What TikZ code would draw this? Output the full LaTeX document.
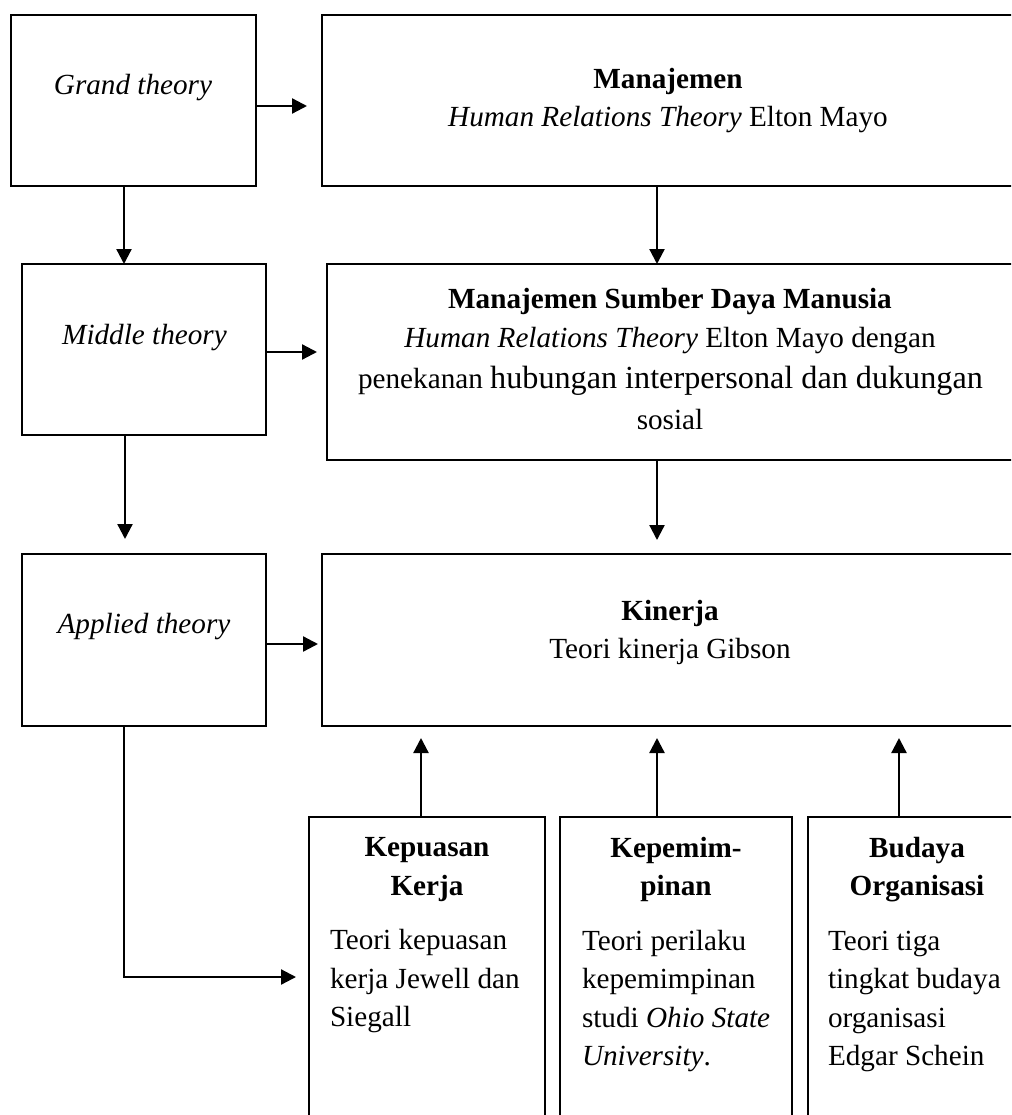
\documentclass[tikz,border=0pt]{standalone}
\usepackage{fontspec}
\setmainfont{Liberation Serif}
\usetikzlibrary{arrows.meta,calc}
\begin{document}
\begin{tikzpicture}[x=1pt,y=-1pt,
  box/.style={draw=black,line width=2.3pt,anchor=north west,inner sep=0pt,outer sep=0pt},
  arr/.style={line width=2.3pt,-{Triangle[length=15pt,width=15pt]}},
  txt/.style={inner sep=0pt,outer sep=0pt,anchor=base,font=\fontsize{29.2}{40}\selectfont},
  txl/.style={txt,anchor=base west}]
\useasboundingbox (0,0) rectangle (1011,1115);
\clip (0,0) rectangle (1011,1115);
\fill[white] (0,0) rectangle (1011,1115);
% boxes
\node[box,minimum width=245pt,minimum height=171pt] (grand) at (11,15) {};
\node[box,minimum width=696pt,minimum height=171pt] (mgmt) at (322,15) {};
\node[box,minimum width=244pt,minimum height=171pt] (middle) at (22,264) {};
\node[box,minimum width=687pt,minimum height=196pt] (msdm) at (327,264) {};
\node[box,minimum width=244pt,minimum height=172pt] (applied) at (22,554) {};
\node[box,minimum width=696pt,minimum height=172pt] (kinerja) at (322,554) {};
\node[box,minimum width=236pt,minimum height=320pt] (kepuasan) at (309,817) {};
\node[box,minimum width=232pt,minimum height=320pt] (kepem) at (560,817) {};
\node[box,minimum width=218pt,minimum height=320pt] (budaya) at (808,817) {};
% helper coordinates
\coordinate (colA) at (124,0);
\coordinate (colA2) at (125,0);
\coordinate (colB) at (657,0);
\coordinate (colC) at (421,0);
\coordinate (colD) at (899,0);
\coordinate (rowA) at (0,106);
\coordinate (rowB) at (0,352);
\coordinate (rowC) at (0,644);
\coordinate (elbY) at (0,977);
% connectors
\draw[arr,shorten >=15pt] (grand.east |- rowA) -- (mgmt.west |- rowA);
\draw[arr,shorten >=10pt] (middle.east |- rowB) -- (msdm.west |- rowB);
\draw[arr,shorten >=4pt] (applied.east |- rowC) -- (kinerja.west |- rowC);
\draw[arr] (grand.south -| colA) -- (middle.north -| colA);
\draw[arr,shorten >=15pt] (middle.south -| colA2) -- (applied.north -| colA2);
\draw[arr] (mgmt.south -| colB) -- (msdm.north -| colB);
\draw[arr,shorten >=14pt] (msdm.south -| colB) -- (kinerja.north -| colB);
\draw[arr,shorten >=12pt] (kepuasan.north -| colC) -- (kinerja.south -| colC);
\draw[arr,shorten >=12pt] (kepem.north -| colB) -- (kinerja.south -| colB);
\draw[arr,shorten >=12pt] (budaya.north -| colD) -- (kinerja.south -| colD);
\draw[arr,shorten >=13pt] (applied.south -| colA) |- (kepuasan.west |- elbY);
% texts
\node[txt] (tgrand) at (133,95) {\textit{Grand theory}};
\node[txt] (tmiddle) at (144.5,344) {\textit{Middle theory}};
\node[txt] (tapplied) at (144,633) {\textit{Applied theory}};
\node[txt] (tm1) at (668,89) {\textbf{Manajemen}};
\node[txt] (tm2) at (668,127) {\textit{Human Relations Theory} Elton Mayo};
\node[txt] (ts1) at (670,308) {\textbf{Manajemen Sumber Daya Manusia}};
\node[txt] (ts2) at (670,347) {\textit{Human Relations Theory} Elton Mayo dengan};
\node[txt] (ts3) at (670.5,388) {penekanan {\fontsize{32.2}{40}\selectfont hubungan interpersonal dan dukungan}};
\node[txt] (ts4) at (670,429) {sosial};
\node[txt] (tk1) at (670,620) {\textbf{Kinerja}};
\node[txt] (tk2) at (670,658) {Teori kinerja Gibson};
\node[txt] (tp1) at (427,856) {\textbf{Kepuasan}};
\node[txt] (tp2) at (427,895) {\textbf{Kerja}};
\node[txl] (tp3) at (330,949) {Teori kepuasan};
\node[txl] (tp4) at (330,988) {kerja Jewell dan};
\node[txl] (tp5) at (330,1026) {Siegall};
\node[txt] (te1) at (676,857) {\textbf{Kepemim-}};
\node[txt] (te2) at (676,895) {\textbf{pinan}};
\node[txl] (te3) at (582,950) {Teori perilaku};
\node[txl] (te4) at (582,988) {kepemimpinan};
\node[txl] (te5) at (582,1027) {studi \textit{Ohio State}};
\node[txl] (te6) at (582,1065) {\textit{University}.};
\node[txt] (tb1) at (917,857) {\textbf{Budaya}};
\node[txt] (tb2) at (917,895) {\textbf{Organisasi}};
\node[txl] (tb3) at (828,950) {Teori tiga};
\node[txl] (tb4) at (828,988) {tingkat budaya};
\node[txl] (tb5) at (828,1027) {organisasi};
\node[txl] (tb6) at (828,1065) {Edgar Schein};
\end{tikzpicture}
\end{document}
